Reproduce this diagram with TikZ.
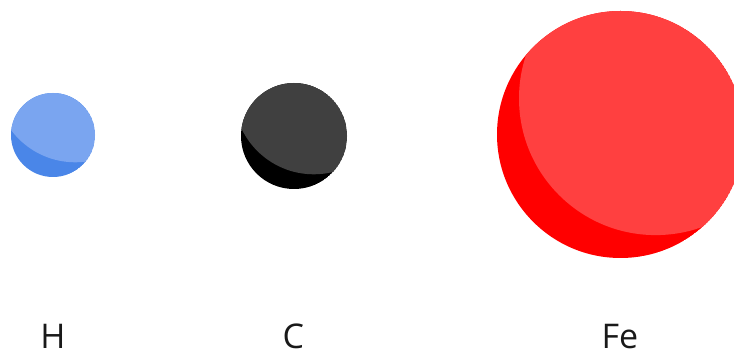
\documentclass[tikz,border=0pt]{standalone}
\usepackage{fontspec}
\setmainfont{Open Sans}
\definecolor{hlight}{RGB}{122,165,240}
\definecolor{hdark}{RGB}{74,134,232}
\definecolor{clight}{RGB}{64,64,64}
\definecolor{cdark}{RGB}{0,0,0}
\definecolor{felight}{RGB}{255,64,64}
\definecolor{fedark}{RGB}{255,0,0}
\tikzset{
  elemlabel/.style={anchor=base, inner sep=0pt, font=\fontsize{34}{40}\selectfont, text=black!90}
}
\begin{document}
\begin{tikzpicture}[x=1pt,y=-1pt]
\useasboundingbox (0,0) rectangle (734,352);
\clip (0,0) rectangle (734,352);
% H
\begin{scope}
  \clip (53,135) circle (42pt);
  \fill[hdark] (53,135) circle (42pt);
  \fill[hlight] (75.3,82.3) circle (80pt);
\end{scope}
% C
\begin{scope}
  \clip (294,136) circle (53pt);
  \fill[cdark] (294,136) circle (53pt);
  \fill[clight] (313.8,94.3) circle (80pt);
\end{scope}
% Fe
\begin{scope}
  \clip (620.5,134.5) circle (123.5pt);
  \fill[fedark] (620.5,134.5) circle (123.5pt);
  \fill[felight] (655.7,98.4) circle (136.7pt);
\end{scope}
\node[elemlabel] (lh) at (53,349) {H};
\node[elemlabel] (lc) at (293.3,349) {C};
\node[elemlabel] (lfe) at (620,349) {Fe};
\end{tikzpicture}
\end{document}
